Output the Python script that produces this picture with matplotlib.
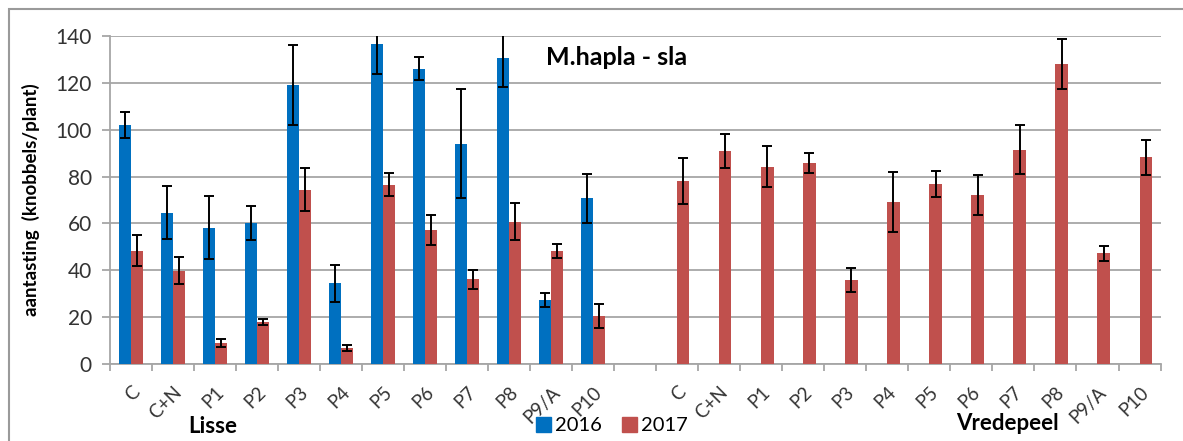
import numpy as np
import matplotlib.pyplot as plt
from matplotlib.patches import Rectangle, Patch

plt.rcParams['font.family'] = ['Lato', 'DejaVu Sans']

behandeling = ['C', 'C+N', 'P1', 'P2', 'P3', 'P4', 'P5', 'P6', 'P7', 'P8', 'P9/A', 'P10']

# Lisse: both years
lisse_2016 = [102, 64.6, 58.2, 60.1, 118.9, 34.5, 136.4, 126, 94, 130.3, 27.4, 70.8]
lisse_2016_err = [5.5, 11.2, 13.4, 7.3, 17, 7.8, 12.7, 5, 23.2, 12, 3, 10.4]
lisse_2017 = [48.4, 39.9, 9, 17.9, 74.3, 6.8, 76.5, 57.3, 36.2, 60.8, 48.1, 20.7]
lisse_2017_err = [6.7, 5.7, 1.6, 1.3, 9.2, 1.3, 5, 6.5, 4.1, 8, 3, 5.1]

# Vredepeel: 2017 only
vredepeel_2017 = [78.1, 91, 84.2, 85.9, 35.9, 69.2, 76.8, 72.3, 91.5, 128, 47.3, 88.2]
vredepeel_2017_err = [9.6, 7.3, 8.7, 4.2, 5, 12.8, 5.5, 8.5, 10.5, 10.7, 3.3, 7.4]

blauw = '#0070C0'
rood = '#C0504D'
grijs = '#A6A6A6'

fig = plt.figure(figsize=(11.83, 4.41), dpi=100)
ax = fig.add_axes([0.093, 0.174, 0.888, 0.745])

x_lisse = np.arange(12)
x_vp = np.arange(13, 25)
w = 0.29
ek = dict(ecolor='black', elinewidth=1.4, capsize=3.6, capthick=1.4)

ax.bar(x_lisse - w / 2, lisse_2016, w, color=blauw, yerr=lisse_2016_err,
       error_kw=ek, zorder=3)
ax.bar(x_lisse + w / 2, lisse_2017, w, color=rood, yerr=lisse_2017_err,
       error_kw=ek, zorder=3)
ax.bar(x_vp + w / 2, vredepeel_2017, w, color=rood, yerr=vredepeel_2017_err,
       error_kw=ek, zorder=3)

ax.set_xlim(-0.5, 24.5)
ax.set_ylim(0, 140)
ax.set_yticks(range(0, 141, 20))
ax.yaxis.grid(True, color=grijs, linewidth=1.3, zorder=0)
ax.tick_params(axis='y', length=6, color=grijs, width=1.3, labelsize=15,
               labelcolor='#333333', pad=7)

ax.set_xticks(list(x_lisse) + list(x_vp))
ax.set_xticklabels(behandeling + behandeling, rotation=45, ha='right',
                   rotation_mode='anchor', fontsize=13.5, color='#333333')
ax.tick_params(axis='x', which='major', length=0, pad=14)
ax.set_xticks(np.arange(-0.5, 25, 1), minor=True)
ax.tick_params(axis='x', which='minor', length=5, color=grijs, width=1.3)

for s in ['top', 'right']:
    ax.spines[s].set_visible(False)
for s in ['left', 'bottom']:
    ax.spines[s].set_color(grijs)
    ax.spines[s].set_linewidth(1.3)

ax.set_ylabel('aantasting  (knobbels/plant)', fontsize=13.5, fontweight='bold')
ax.yaxis.set_label_coords(-0.067, 0.5)

ax.text(0.415, 0.935, 'M.hapla - sla', transform=ax.transAxes,
        fontsize=18, fontweight='bold', ha='left', va='center')

fig.text(0.18, 0.018, 'Lisse', fontsize=16, fontweight='bold', ha='center')
fig.text(0.852, 0.025, 'Vredepeel', fontsize=16, fontweight='bold', ha='center')

handles = [Patch(color=blauw, label='2016'), Patch(color=rood, label='2017')]
fig.legend(handles=handles, loc='center', bbox_to_anchor=(0.517, 0.035),
           ncol=2, frameon=False, fontsize=14.5, handlelength=0.75,
           handleheight=0.75, handletextpad=0.2, columnspacing=1.0)

fig.patches.append(Rectangle((9 / 1183, -0.1), 1.2, 1 - 9 / 441 + 0.1,
                             transform=fig.transFigure, fill=False,
                             edgecolor='#9A9A9A', linewidth=1.5))

fig.savefig('out.png', dpi=100)
